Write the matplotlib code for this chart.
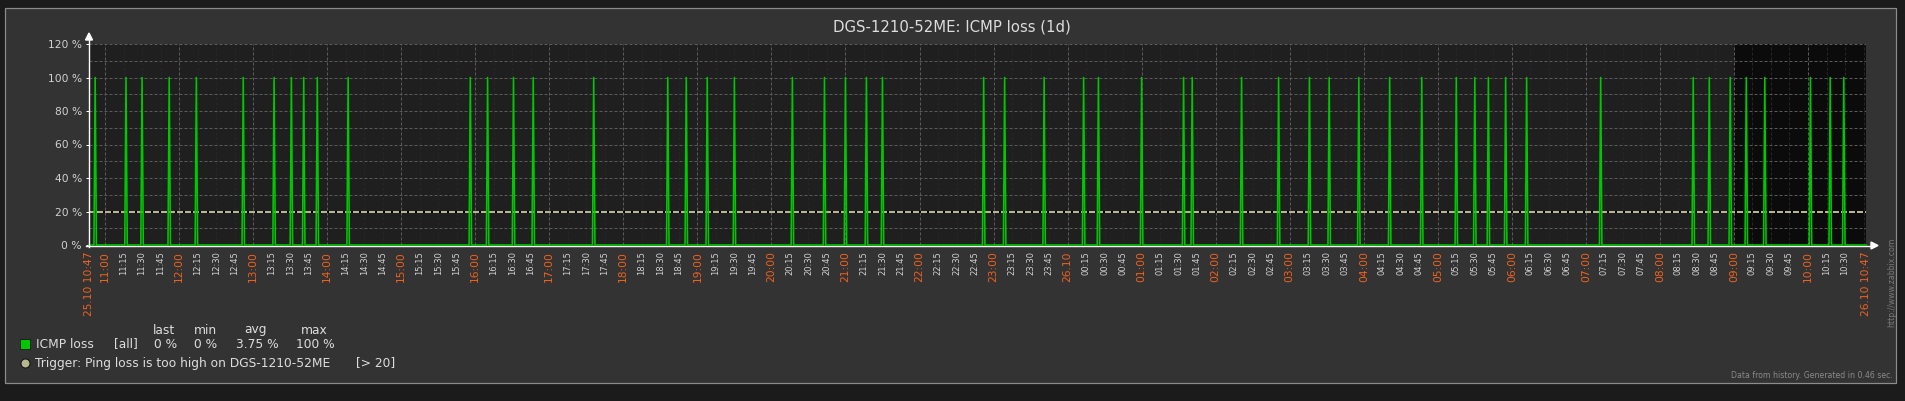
import matplotlib
matplotlib.use("Agg")
import matplotlib.pyplot as plt
import pandas as pd
import numpy as np
from matplotlib.patches import Rectangle, Polygon
from matplotlib.lines import Line2D

# ---------------- data ----------------
title = "DGS-1210-52ME: ICMP loss (1d)"
period_start = "2013-10-25 10:47"
period_end = "2013-10-26 10:47"
dark_start = "2013-10-26 09:00"

# minutes with 100 % packet loss (1-minute samples, everything else is 0 %)
loss_times = [
    "10:52", "11:17", "11:30", "11:52", "12:14", "12:52", "13:17", "13:31", "13:41", "13:52", "14:17",
    "15:56", "16:10", "16:31", "16:47", "17:36", "18:36",
    "18:51", "19:08", "19:30", "20:17", "20:43", "21:00", "21:17", "21:30",
    "22:52", "23:09", "23:41", "00:13", "00:25", "01:00", "01:34", "01:41", "02:21",
    "02:51", "03:16", "03:32", "03:56", "04:21", "04:47", "05:15", "05:30", "05:41", "05:55", "06:12",
    "07:12", "08:27", "08:40", "08:57", "09:10", "09:25", "10:02", "10:18", "10:29",
]
loss_value = 100
trigger_value = 20

y_ticks = [0, 20, 40, 60, 80, 100, 120]
y_tick_labels = ["0 %", "20 %", "40 %", "60 %", "80 %", "100 %", "120 %"]

legend_name = "ICMP loss"
legend_func = "[all]"
legend_headers = ["last", "min", "avg", "max"]
legend_values = ["0 %", "0 %", "3.75 %", "100 %"]
trigger_text = "Trigger: Ping loss is too high on DGS-1210-52ME"
trigger_cond = "[> 20]"
footer_text = "Data from history. Generated in 0.46 sec."
url_text = "http://www.zabbix.com"

# ---------------- build series ----------------
start = pd.Timestamp(period_start)
end = pd.Timestamp(period_end)
idx = pd.date_range(start, end, freq="1min")


def to_ts(hm):
    t = pd.Timestamp(f"{start.date()} {hm}")
    if t < start:
        t += pd.Timedelta(days=1)
    return t


series = pd.Series(0.0, index=idx)
series.loc[[to_ts(h) for h in loss_times]] = loss_value


def minutes(ts):
    return (pd.Timestamp(ts) - start) / pd.Timedelta(minutes=1)


xs = np.array([(t - start) / pd.Timedelta(minutes=1) for t in series.index])
total = minutes(end)

# ---------------- figure ----------------
W, H, DPI = 1906, 401, 100
fig = plt.figure(figsize=(W / DPI, H / DPI), dpi=DPI, facecolor="#1b1b1b")


def fx(x):
    return x / W


def fy(y):
    return 1 - y / H


PX = 72.0 / DPI  # points per pixel

fig.patches.append(Rectangle((fx(5), fy(383)), (1896 - 5) / W, (383 - 8) / H,
                             transform=fig.transFigure, facecolor="#333333",
                             edgecolor="#8c8c8c", lw=1.2 * PX, zorder=-10))

L, R, T, B = 89, 1866, 44, 245
ax = fig.add_axes([fx(L), fy(B), (R - L) / W, (B - T) / H])
ax.set_zorder(1)
ax.set_facecolor("#1f1f1f")
ax.set_xlim(0, total)
ax.set_ylim(0, 120)
for s in ax.spines.values():
    s.set_visible(False)

# dark (non-working) period
ax.axvspan(minutes(dark_start), total, color="#0b0b0b", zorder=0.5, lw=0)

# minor vertical grid every 15 min
q_ticks = pd.date_range(start.ceil("15min"), end, freq="15min")
for t in q_ticks:
    ax.axvline(minutes(t), color="#262626", lw=PX, ls=(0, (3, 2)), zorder=0.8)
# major vertical grid every hour
h_ticks = pd.date_range(start.ceil("1h"), end, freq="1h")
for t in h_ticks:
    ax.axvline(minutes(t), color="#5a5a5a", lw=PX, ls=(0, (3, 2)), zorder=1)
ax.axvline(total, color="#5a5a5a", lw=PX, ls=(0, (3, 2)), zorder=1)
# horizontal grid every 10 %
for yv in np.arange(10, 121, 10):
    ax.axhline(yv, color="#5a5a5a", lw=PX, ls=(0, (3, 2)), zorder=1)

# trigger line
ax.axhline(trigger_value, color="#000000", lw=2 * PX, zorder=2)
ax.axhline(trigger_value, color="#b9b58e", lw=2 * PX, ls=(0, (3, 1)), zorder=2.1)

# data
ax.plot(xs, series.values, color="#00c800", lw=1.6 * PX, zorder=3, clip_on=False)

# y ticks
ax.set_yticks(y_ticks)
ax.set_yticklabels(y_tick_labels)
ax.tick_params(axis="y", length=3 * PX, width=PX, color="white", pad=4 * PX,
               labelsize=7.7, labelcolor="#d2d2d2")

# x ticks: start, every 15 min (not too close to the end), end
label_q = [t for t in q_ticks if (end - t) > pd.Timedelta(minutes=5)]
tick_ts = [start] + label_q + [end]
tick_pos = [minutes(t) for t in tick_ts]
labels, colors, sizes = [], [], []
for i, t in enumerate(tick_ts):
    if i == 0 or i == len(tick_ts) - 1:
        labels.append(t.strftime("%d.%m %H:%M")); colors.append("#f0621e"); sizes.append(7.7)
    elif t.hour == 0 and t.minute == 0:
        labels.append(t.strftime("%d.%m")); colors.append("#f0621e"); sizes.append(7.7)
    elif t.minute == 0:
        labels.append(t.strftime("%H:%M")); colors.append("#f0621e"); sizes.append(7.7)
    else:
        labels.append(t.strftime("%H:%M")); colors.append("#d2d2d2"); sizes.append(6.0)
ax.set_xticks(tick_pos)
ax.set_xticklabels(labels, rotation=90)
ax.tick_params(axis="x", length=0, pad=6 * PX)
for lab, c, s in zip(ax.get_xticklabels(), colors, sizes):
    lab.set_color(c)
    lab.set_fontsize(s)

# axes lines with arrows (in pixel coordinates)
fig.add_artist(Line2D([fx(L), fx(L)], [fy(B + 2), fy(38)], transform=fig.transFigure,
                      color="white", lw=1.4 * PX, zorder=5))
fig.add_artist(Polygon([[fx(L), fy(33)], [fx(L - 3.5), fy(40)], [fx(L + 3.5), fy(40)]],
                       closed=True, transform=fig.transFigure, color="white", zorder=5))
fig.add_artist(Line2D([fx(L - 3), fx(1872)], [fy(B + 0.5), fy(B + 0.5)], transform=fig.transFigure,
                      color="white", lw=1.4 * PX, zorder=0.9))
fig.add_artist(Polygon([[fx(1878), fy(B + 0.5)], [fx(1871), fy(B - 3)], [fx(1871), fy(B + 4)]],
                       closed=True, transform=fig.transFigure, color="white", zorder=5))

# title
fig.text(fx(952), fy(27), title, ha="center", va="center", fontsize=10.7, color="#dddddd")

# legend
for htxt, xl in zip(legend_headers, [164, 205, 256, 314]):
    fig.text(fx(xl), fy(330), htxt, ha="center", va="center", fontsize=8.8, color="#dddddd")
fig.patches.append(Rectangle((fx(20.5), fy(349)), 10 / W, 10 / H, transform=fig.transFigure,
                             facecolor="#00c800", edgecolor="#111111", lw=0.8 * PX, zorder=3))
fig.text(fx(36), fy(344), legend_name, ha="left", va="center", fontsize=8.8, color="#dddddd")
fig.text(fx(114), fy(344), legend_func, ha="left", va="center", fontsize=8.8, color="#dddddd")
for vtxt, xl in zip(legend_values, [154, 194, 236, 296]):
    fig.text(fx(xl), fy(344), vtxt, ha="left", va="center", fontsize=8.8, color="#dddddd")

fig.add_artist(Line2D([fx(25.5)], [fy(363)], transform=fig.transFigure, marker="o",
                      markersize=9 * PX, markerfacecolor="#b9b58e", markeredgecolor="#111111",
                      markeredgewidth=1 * PX, ls="none"))
fig.text(fx(35), fy(363), trigger_text, ha="left", va="center", fontsize=8.8, color="#dddddd")
fig.text(fx(356), fy(363), trigger_cond, ha="left", va="center", fontsize=8.8, color="#dddddd")

fig.text(fx(1893), fy(376), footer_text, ha="right", va="center", fontsize=5.6, color="#8a8a8a")
fig.text(fx(1892), fy(282), url_text, ha="center", va="center", rotation=90,
         fontsize=5.6, color="#7a7a7a")

fig.savefig("out.png", dpi=DPI, facecolor=fig.get_facecolor())
